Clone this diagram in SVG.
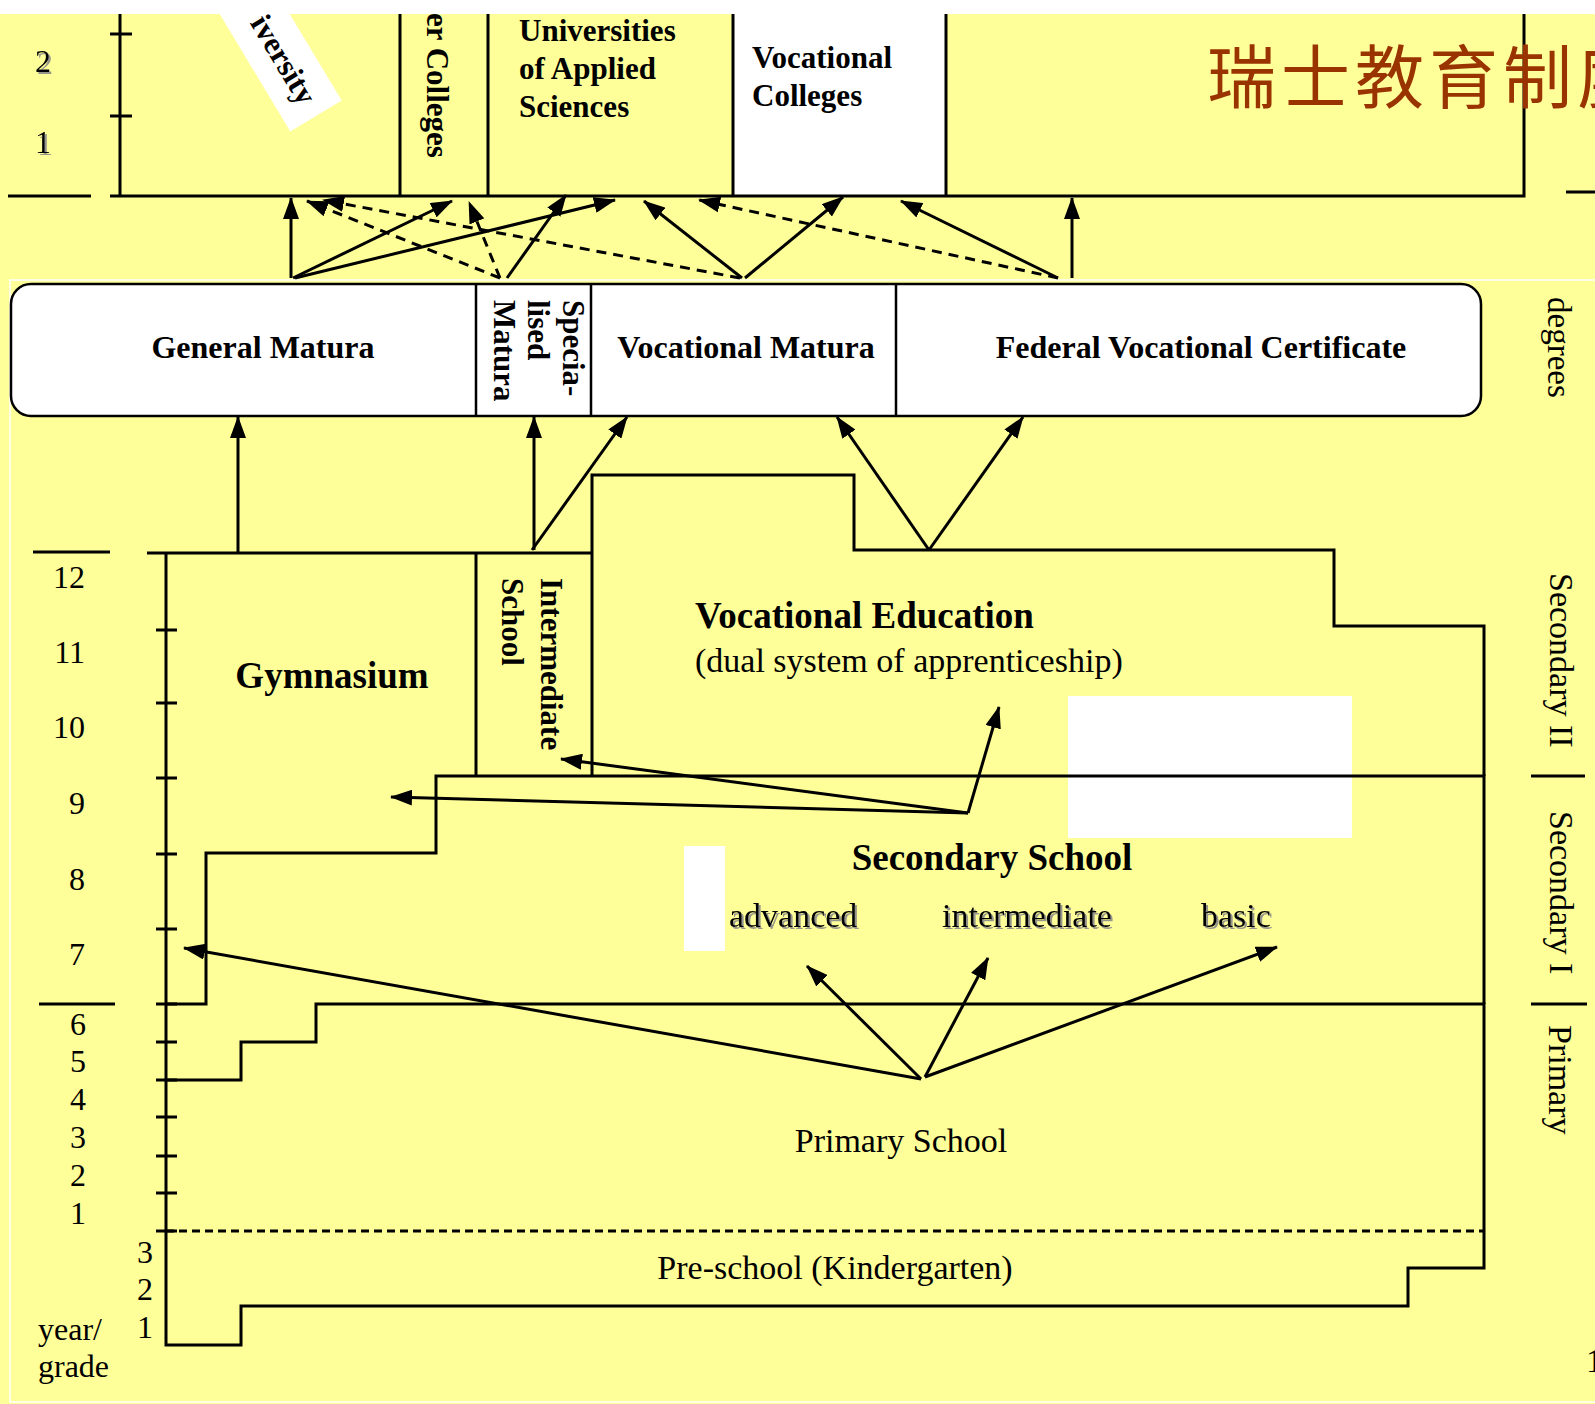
<svg xmlns="http://www.w3.org/2000/svg" width="1595" height="1404" viewBox="0 0 1595 1404">
<defs>
<marker id="ah" viewBox="0 0 22 16" refX="21" refY="8" markerWidth="22" markerHeight="16" markerUnits="userSpaceOnUse" orient="auto">
<path d="M0,0 L22,8 L0,16 z" fill="#000"/>
</marker>
<filter id="sh" x="-10%" y="-10%" width="130%" height="140%">
<feDropShadow dx="2" dy="2" stdDeviation="0.6" flood-color="#8a8a8a" flood-opacity="0.9"/>
</filter>
<style>
.ln{fill:none;stroke:#000;stroke-width:3}
.thin{fill:none;stroke:#000;stroke-width:2.5}
.ar{fill:none;stroke:#000;stroke-width:3;marker-end:url(#ah)}
.da{fill:none;stroke:#000;stroke-width:3;stroke-dasharray:10 7;marker-end:url(#ah)}
.b{font-family:"Liberation Serif","Times New Roman",serif;font-weight:bold;fill:#000}
.r{font-family:"Liberation Serif","Times New Roman",serif;fill:#000}
.f31{font-size:31px}
.f32{font-size:32px}
.f34{font-size:34px}
.f37{font-size:37px}
.sd{filter:url(#sh)}
</style>
</defs>
<rect x="0" y="0" width="1595" height="1404" fill="#FFFF99"/>
<rect x="10" y="280" width="1600" height="1122" fill="none" stroke="#fff" stroke-width="1.5"/>

<!-- top tertiary section -->
<g id="tertiary">
<rect x="733" y="0" width="213" height="196" fill="#fff"/>
<path class="ln" d="M120,0 V196 M110,34 H132 M110,116 H132 M110,196 H132 M118,196 H1524 V0 M400,0 V196 M488,0 V196 M733,0 V196 M946,0 V196 M8,196 H91 M1566,192 H1595"/>
<text class="r f32 sd" x="43" y="72" text-anchor="middle">2</text>
<text class="r f32 sd" x="43" y="153" text-anchor="middle">1</text>
</g>
<g id="university" transform="translate(316,116) rotate(59)">
<rect x="-300" y="-30" width="300" height="60" fill="#fff"/>
<text class="b f31" x="-16" y="9" text-anchor="end">iversity</text>
</g>
<g id="colleges">
<text class="b f31" transform="translate(427,13) rotate(90)" x="0" y="0">er Colleges</text>
</g>
<g id="uas">
<text class="b f31" x="519" y="41">Universities</text>
<text class="b f31" x="519" y="79">of Applied</text>
<text class="b f31" x="519" y="117">Sciences</text>
</g>
<g id="vocational-colleges">
<text class="b f31" x="752" y="68">Vocational</text>
<text class="b f31" x="752" y="106">Colleges</text>
</g>
<g id="title">
<text x="1207" y="103" font-family="'Noto Sans CJK SC','Noto Sans CJK TC',sans-serif" font-size="69" letter-spacing="5" fill="#993300">瑞士教育制度</text>
</g>

<!-- degrees -->
<g id="degrees">
<rect x="11" y="284" width="1470" height="132" rx="20" ry="20" fill="#fff" stroke="#000" stroke-width="2.5"/>
<path class="thin" d="M476,284 V416 M591,284 V416 M896,284 V416"/>
<text class="b f32" x="263" y="358" text-anchor="middle">General Matura</text>
<text class="b f31" transform="translate(563,300) rotate(90)" x="0" y="0">Specia-</text>
<text class="b f31" transform="translate(528,300) rotate(90)" x="0" y="0">lised</text>
<text class="b f31" transform="translate(494,300) rotate(90)" x="0" y="0">Matura</text>
<text class="b f32" x="746" y="358" text-anchor="middle">Vocational Matura</text>
<text class="b f32" x="1201" y="358" text-anchor="middle">Federal Vocational Certificate</text>
<text class="r" font-size="33" transform="translate(1548,297) rotate(90)" x="0" y="0">degrees</text>
</g>

<!-- school structure -->
<g id="gymnasium">
<path class="ln" d="M147,553 H592 M476,553 V776"/>
<text class="b f37" x="332" y="688" text-anchor="middle">Gymnasium</text>
</g>
<g id="intermediate-school">
<text class="b f31" transform="translate(541,578) rotate(90)" x="0" y="0">Intermediate</text>
<text class="b f31" transform="translate(502,578) rotate(90)" x="0" y="0">School</text>
</g>
<g id="vocational-education">
<path class="ln" d="M592,776 V475 H854 V550 H1334 V626 H1484 V776"/>
<text class="b f37" x="695" y="628">Vocational Education</text>
<text class="r f34" x="695" y="672">(dual system of apprenticeship)</text>
</g>
<g id="secondary-school">
<rect x="1068" y="696" width="284" height="142" fill="#fff"/>
<rect x="684" y="846" width="41" height="105" fill="#fff"/>
<path class="ln" d="M166,1004 H206 V853 H436 V776 H1484 V1004"/>
<text class="b f37" x="992" y="870" text-anchor="middle">Secondary School</text>
<text class="r f34 sd" x="729" y="927">advanced</text>
<text class="r f34 sd" x="942" y="927">intermediate</text>
<text class="r f34 sd" x="1201" y="927">basic</text>
</g>
<g id="primary-school">
<path class="ln" d="M166,1080 H241 V1042 H316 V1004 H1484 V1231"/>
<text class="r f34" x="901" y="1152" text-anchor="middle">Primary School</text>
</g>
<g id="pre-school">
<path class="ln" d="M166,553 V1345 H241 V1306 H1408 V1268 H1484 V1231"/>
<path d="M166,1231 H1484" fill="none" stroke="#000" stroke-width="3" stroke-dasharray="8 5"/>
<text class="r f34" x="835" y="1279" text-anchor="middle">Pre-school (Kindergarten)</text>
</g>

<!-- grade axis -->
<g id="axis">
<path class="ln" d="M33,552 H110 M39,1004 H115 M156,630 H177 M156,703 H177 M156,778 H177 M156,854 H177 M156,929 H177 M156,1004 H177 M156,1042 H177 M156,1080 H177 M156,1117 H177 M156,1156 H177 M156,1193 H177 M156,1231 H177"/>
<text class="r f32" x="85" y="588" text-anchor="end">12</text>
<text class="r f32" x="85" y="663" text-anchor="end">11</text>
<text class="r f32" x="85" y="738" text-anchor="end">10</text>
<text class="r f32" x="85" y="814" text-anchor="end">9</text>
<text class="r f32" x="85" y="890" text-anchor="end">8</text>
<text class="r f32" x="85" y="965" text-anchor="end">7</text>
<text class="r f32" x="86" y="1035" text-anchor="end">6</text>
<text class="r f32" x="86" y="1072" text-anchor="end">5</text>
<text class="r f32" x="86" y="1110" text-anchor="end">4</text>
<text class="r f32" x="86" y="1148" text-anchor="end">3</text>
<text class="r f32" x="86" y="1186" text-anchor="end">2</text>
<text class="r f32" x="86" y="1224" text-anchor="end">1</text>
<text class="r f32" x="145" y="1263" text-anchor="middle">3</text>
<text class="r f32" x="145" y="1300" text-anchor="middle">2</text>
<text class="r f32" x="145" y="1338" text-anchor="middle">1</text>
<text class="r f32" x="38" y="1340">year/</text>
<text class="r f32" x="38" y="1377">grade</text>
</g>

<!-- level labels -->
<g id="levels">
<path class="ln" d="M1531,776 H1585 M1531,1004 H1587"/>
<text class="r f34" transform="translate(1550,573) rotate(90)" x="0" y="0">Secondary II</text>
<text class="r f34" transform="translate(1550,811) rotate(90)" x="0" y="0">Secondary I</text>
<text class="r f34" transform="translate(1549,1025) rotate(90)" x="0" y="0">Primary</text>
<text class="r" font-size="34" x="1586" y="1372">1</text>
</g>

<!-- connectors -->
<g id="connectors">
<path class="ar" d="M291,278 L291,198"/>
<path class="ar" d="M293,278 L452,201"/>
<path class="ar" d="M295,278 L615,200"/>
<path class="ar" d="M507,278 L566,195"/>
<path class="ar" d="M742,278 L644,201"/>
<path class="ar" d="M745,278 L843,197"/>
<path class="ar" d="M1058,278 L901,201"/>
<path class="ar" d="M1072,278 L1072,198"/>
<path class="da" d="M500,278 L307,201"/>
<path class="da" d="M740,278 L323,200"/>
<path class="da" d="M500,278 L469,202"/>
<path class="da" d="M1058,278 L699,200"/>
<path class="ar" d="M238,553 L238,417"/>
<path class="ar" d="M534,550 L534,417"/>
<path class="ar" d="M532,550 L627,417"/>
<path class="ar" d="M929,550 L837,417"/>
<path class="ar" d="M929,550 L1023,417"/>
<path class="ar" d="M968,813 L999,707"/>
<path class="ar" d="M968,813 L561,759"/>
<path class="ar" d="M968,813 L391,797"/>
<path class="ar" d="M921,1079 L184,948"/>
<path class="ar" d="M921,1079 L807,966"/>
<path class="ar" d="M925,1077 L988,958"/>
<path class="ar" d="M925,1077 L1277,947"/>
</g>

<rect id="top-band" x="0" y="0" width="1595" height="14" fill="#fff"/>
</svg>
